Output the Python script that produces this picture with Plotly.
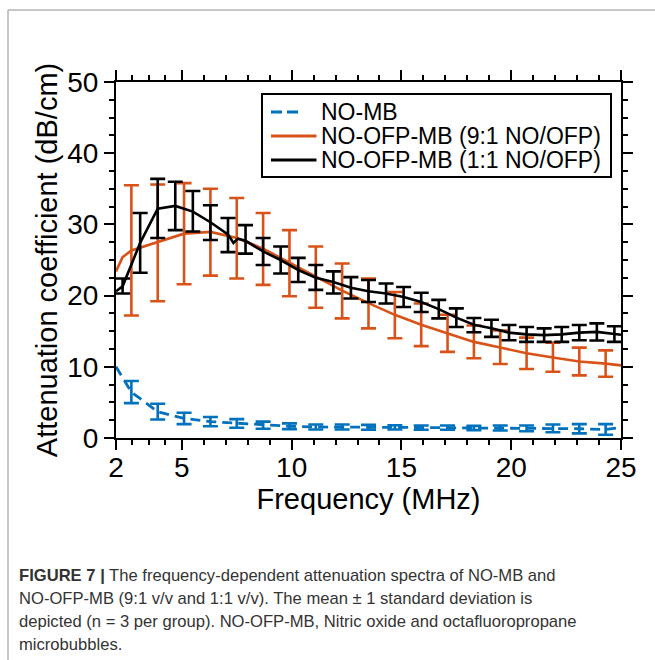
import plotly.graph_objects as go

# ---------------- data ----------------
# NO-MB (blue, dashed)
blue_line_f = [2.0, 2.7, 3.9, 5.1, 6.3, 7.5, 8.7, 9.9, 11.1, 12.3, 13.5, 14.7, 15.9, 17.1, 18.3, 19.5, 20.7, 21.9, 23.1, 24.3, 25.0]
blue_line_v = [10.0, 6.45, 3.7, 2.75, 2.3, 2.05, 1.8, 1.65, 1.55, 1.55, 1.5, 1.5, 1.45, 1.45, 1.4, 1.4, 1.35, 1.35, 1.3, 1.2, 1.5]
blue_bar_f = [2.7, 3.9, 5.1, 6.3, 7.5, 8.7, 9.9, 11.1, 12.3, 13.5, 14.7, 15.9, 17.1, 18.3, 19.5, 20.7, 21.9, 23.1, 24.3]
blue_bar_v = [6.45, 3.7, 2.75, 2.3, 2.05, 1.8, 1.65, 1.55, 1.55, 1.5, 1.5, 1.45, 1.45, 1.4, 1.4, 1.35, 1.35, 1.3, 1.2]
blue_bar_e = [1.55, 1.1, 0.8, 0.65, 0.6, 0.5, 0.4, 0.35, 0.35, 0.35, 0.3, 0.3, 0.3, 0.3, 0.35, 0.4, 0.55, 0.65, 0.75]

# NO-OFP-MB 9:1 (orange)
orange_line_f = [2.0, 2.3, 2.7, 3.9, 5.1, 6.3, 7.5, 8.7, 9.9, 11.1, 12.3, 13.5, 14.7, 15.9, 17.1, 18.3, 19.5, 20.7, 21.9, 23.1, 24.3, 25.0]
orange_line_v = [23.4, 25.4, 26.35, 27.5, 28.7, 28.95, 28.1, 26.6, 24.6, 22.6, 20.7, 18.95, 17.3, 15.9, 14.7, 13.5, 12.7, 11.9, 11.3, 10.75, 10.45, 10.2]
orange_bar_f = [2.7, 3.9, 5.1, 6.3, 7.5, 8.7, 9.9, 11.1, 12.3, 13.5, 14.7, 15.9, 17.1, 18.3, 19.5, 20.7, 21.9, 23.1, 24.3]
orange_bar_v = [26.35, 27.4, 28.7, 28.9, 28.05, 26.55, 24.55, 22.6, 20.65, 18.9, 17.25, 15.9, 14.7, 13.5, 12.75, 11.9, 11.35, 10.75, 10.45]
orange_bar_e = [9.15, 8.2, 7.1, 6.1, 5.65, 5.05, 4.65, 4.3, 3.85, 3.5, 3.25, 3.0, 2.6, 2.3, 2.35, 2.2, 2.05, 1.95, 1.85]

# NO-OFP-MB 1:1 (black)
black_line_f = [2.0, 2.3, 3.1, 3.5, 3.9, 4.7, 5.5, 6.3, 7.1, 7.35, 7.55, 7.9, 8.7, 9.5, 10.3, 11.1, 11.9, 12.7, 13.5, 14.3, 15.1, 15.9, 16.7, 17.5, 18.3, 19.1, 19.9, 20.7, 21.5, 22.3, 23.1, 23.9, 24.7, 25.0]
black_line_v = [20.6, 21.3, 27.4, 29.8, 32.2, 32.6, 31.8, 30.3, 28.6, 27.4, 28.0, 27.7, 26.2, 25.0, 23.6, 22.5, 21.9, 21.1, 20.6, 20.3, 19.8, 19.1, 18.1, 16.9, 15.9, 15.4, 14.8, 14.55, 14.45, 14.55, 14.8, 14.9, 14.6, 14.5]
black_bar_f = [2.3, 3.1, 3.9, 4.7, 5.5, 6.3, 7.1, 7.9, 8.7, 9.5, 10.3, 11.1, 11.9, 12.7, 13.5, 14.3, 15.1, 15.9, 16.7, 17.5, 18.3, 19.1, 19.9, 20.7, 21.5, 22.3, 23.1, 23.9, 24.7]
black_bar_v = [21.35, 27.4, 32.25, 32.6, 31.85, 30.25, 28.5, 27.9, 26.2, 25.0, 23.6, 22.55, 21.85, 21.1, 20.65, 20.3, 19.8, 19.05, 18.1, 16.9, 15.85, 15.4, 14.8, 14.55, 14.45, 14.55, 14.8, 14.9, 14.6]
black_bar_e = [1.05, 4.2, 4.15, 3.4, 2.85, 2.45, 2.4, 2.0, 1.9, 1.9, 1.7, 1.75, 1.55, 1.5, 1.55, 1.4, 1.4, 1.35, 1.3, 1.3, 1.0, 1.2, 1.07, 1.05, 0.95, 1.05, 1.07, 1.2, 1.1]

x_major = [2, 5, 10, 15, 20, 25]
x_minor = [2.75, 3.5, 4.25, 6, 7, 8, 9, 11, 12, 13, 14, 16, 17, 18, 19, 21, 22, 23, 24]
y_major = [0, 10, 20, 30, 40, 50]
y_minor = [2.5, 5, 7.5, 12.5, 15, 17.5, 22.5, 25, 27.5, 32.5, 35, 37.5, 42.5, 45, 47.5]

legend_names = ["NO-MB", "NO-OFP-MB (9:1 NO/OFP)", "NO-OFP-MB (1:1 NO/OFP)"]
caption_lines = [
    "<b>FIGURE 7 |</b> The frequency-dependent attenuation spectra of NO-MB and",
    "NO-OFP-MB (9:1 v/v and 1:1 v/v). The mean ± 1 standard deviation is",
    "depicted (n = 3 per group). NO-OFP-MB, Nitric oxide and octafluoropropane",
    "microbubbles.",
]

# ---------------- styling ----------------
BLUE = "#0072BD"
ORANGE = "#D95319"
BLACK = "#000000"
FONT = "Liberation Sans, Arial, Helvetica, sans-serif"

W, H = 655, 660
ML, MR, MT, MB = 116, 34, 82, 222
PW = W - ML - MR
PH = H - MT - MB


def px(xp):
    return (xp - ML) / PW


def py(yp):
    return (H - MB - yp) / PH


fig = go.Figure()


def add_series(lf, lv, bf, bv, be, color, dash, lw):
    fig.add_trace(go.Scatter(x=lf, y=lv, mode="lines",
                             line=dict(color=color, width=lw, dash=dash),
                             showlegend=False, hoverinfo="skip"))
    fig.add_trace(go.Scatter(x=bf, y=bv, mode="markers",
                             marker=dict(size=1, color="rgba(0,0,0,0)"),
                             error_y=dict(type="data", array=be, visible=True,
                                          color=color, thickness=2.6, width=7.5),
                             showlegend=False, hoverinfo="skip"))


add_series(blue_line_f, blue_line_v, blue_bar_f, blue_bar_v, blue_bar_e, BLUE, "10px,6px", 2.8)
add_series(orange_line_f, orange_line_v, orange_bar_f, orange_bar_v, orange_bar_e, ORANGE, "solid", 2.6)
add_series(black_line_f, black_line_v, black_bar_f, black_bar_v, black_bar_e, BLACK, "solid", 2.6)

axis_common = dict(
    showgrid=False, zeroline=False, showline=True, linecolor="black", linewidth=2,
    mirror="ticks", ticks="outside", ticklen=10, tickwidth=2, tickcolor="black",
    tickfont=dict(family=FONT, size=28, color="black"),
    title_font=dict(family=FONT, size=29, color="black"),
)

fig.update_xaxes(range=[2, 25], tickmode="array", tickvals=x_major,
                 ticktext=[str(v) for v in x_major], ticklabelstandoff=-7,
                 minor=dict(tickmode="array", tickvals=x_minor, ticks="outside",
                            ticklen=5, tickwidth=2, tickcolor="black"),
                 title=dict(text="Frequency (MHz)", standoff=3), **axis_common)
fig.update_yaxes(range=[0, 50], tickmode="array", tickvals=y_major,
                 ticktext=[str(v) for v in y_major],
                 minor=dict(tickmode="array", tickvals=y_minor, ticks="outside",
                            ticklen=5, tickwidth=2, tickcolor="black"),
                 title=dict(text="Attenuation coefficient (dB/cm)", standoff=1), **axis_common)

shapes = []
annotations = []

# outer thin gray frame of the figure panel
shapes.append(dict(type="line", xref="paper", yref="paper", x0=px(8), x1=px(700), y0=py(10), y1=py(10),
                   line=dict(color="#b4b4b4", width=1.5)))
shapes.append(dict(type="line", xref="paper", yref="paper", x0=px(8), x1=px(8), y0=py(10), y1=py(700),
                   line=dict(color="#b4b4b4", width=1.5)))

# legend box
shapes.append(dict(type="rect", xref="paper", yref="paper", x0=px(262), x1=px(611), y0=py(177), y1=py(94),
                   line=dict(color="black", width=2), fillcolor="white", layer="above"))
leg_y = [112, 136, 160]
leg_x1 = [298, 316.5, 316.5]
leg_style = [(BLUE, "11px,5px"), (ORANGE, "solid"), (BLACK, "solid")]
for yy, x1, (c, d), name in zip(leg_y, leg_x1, leg_style, legend_names):
    shapes.append(dict(type="line", xref="paper", yref="paper", x0=px(271), x1=px(x1), y0=py(yy), y1=py(yy),
                       line=dict(color=c, width=2.8, dash=d), layer="above"))
    annotations.append(dict(xref="paper", yref="paper", x=px(319), y=py(yy), text=name, showarrow=False,
                            xanchor="left", yanchor="middle",
                            font=dict(family=FONT, size=23, color="black")))

# caption
cap_y = [575.5, 598.5, 621.5, 644]
for yy, t in zip(cap_y, caption_lines):
    annotations.append(dict(xref="paper", yref="paper", x=px(17), y=py(yy), text=t, showarrow=False,
                            xanchor="left", yanchor="middle",
                            font=dict(family=FONT, size=16.6, color="#333333")))

fig.update_layout(
    width=W, height=H,
    margin=dict(l=ML, r=MR, t=MT, b=MB, autoexpand=False),
    paper_bgcolor="white", plot_bgcolor="white",
    showlegend=False,
    shapes=shapes, annotations=annotations,
)

fig.write_html("out.html",
               config={"displayModeBar": False, "staticPlot": True},
               post_script="document.body.style.margin='0px';document.body.style.overflow='hidden';")
